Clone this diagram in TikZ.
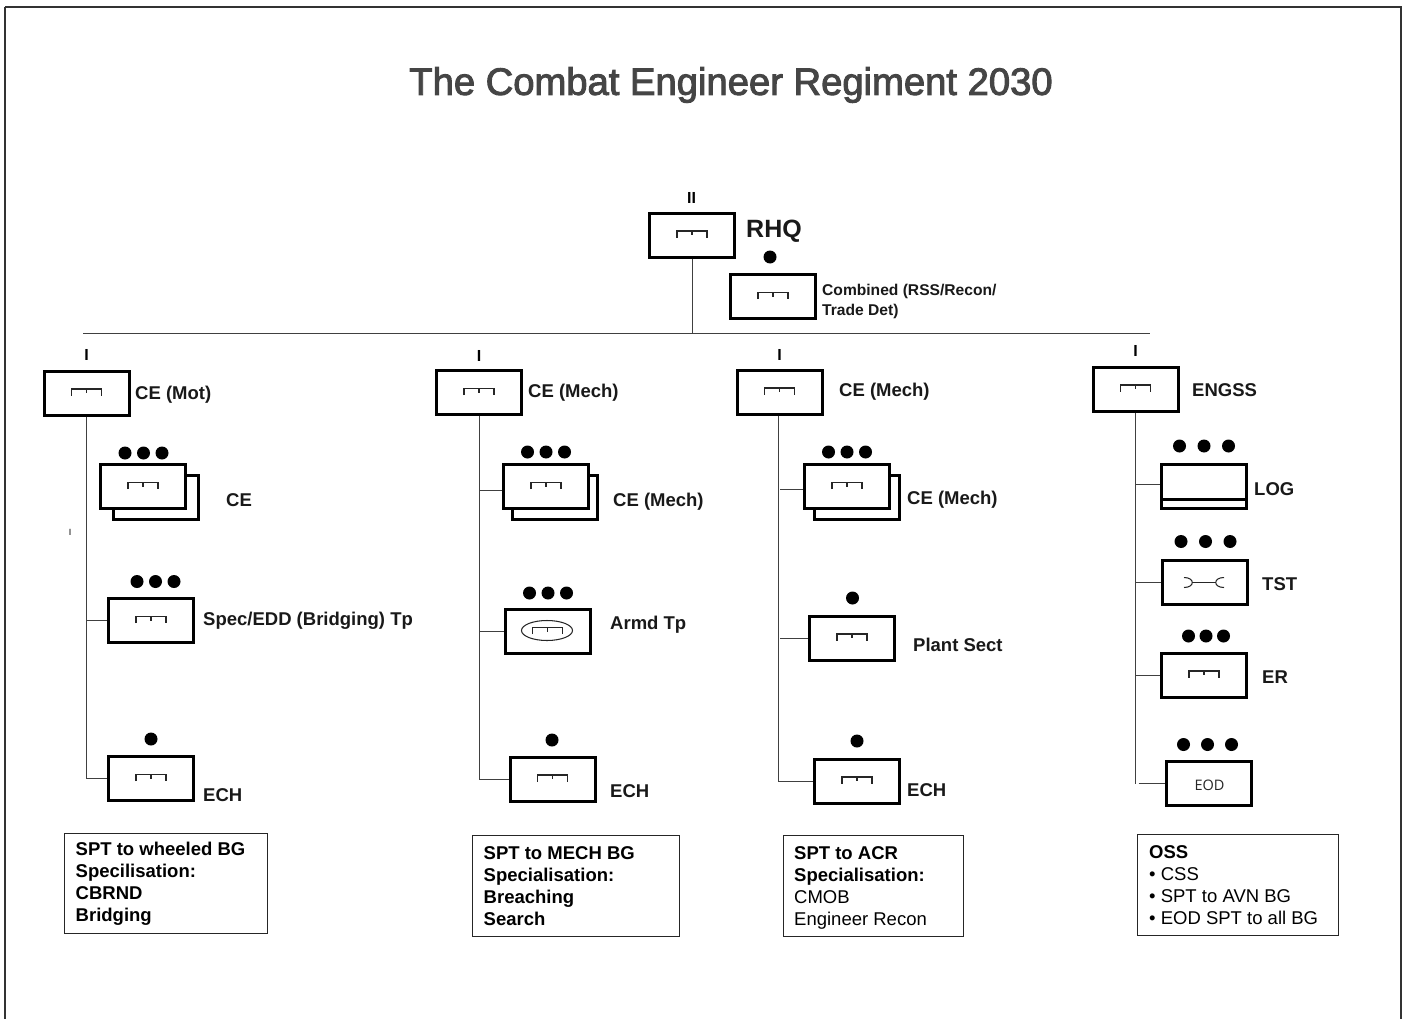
\documentclass[tikz,border=0pt]{standalone}
\usepackage{fontspec}
\setmainfont{Liberation Sans}
\newfontfamily\eodfont{Open Sans}
\newfontfamily\titlefont[FakeBold=2.5]{Liberation Sans}
\definecolor{titlegray}{gray}{0.27}
\definecolor{linegray}{gray}{0.25}
\newcommand{\lblsize}{\fontsize{18.5}{22}\selectfont\bfseries}
\tikzset{
  x=1pt,y=-1pt,
  unitbox/.style={draw=black,line width=3pt,fill=white,minimum width=85pt,minimum height=44pt,inner sep=0pt,outer sep=1.5pt},
  lbl/.style={font=\lblsize,anchor=west,inner sep=0pt,text=black!90},
  dot/.style={circle,fill=black,inner sep=0pt,minimum size=13pt},
  echelon/.style={font=\fontsize{16}{18}\selectfont\bfseries,inner sep=0pt},
  wire/.style={draw=linegray,line width=1pt},
  sym/.style={draw=black!85,line width=1.05pt},
  notebox/.style={draw=black!85,line width=0.9pt,inner sep=0pt},
  notetext/.style={font=\fontsize{18.5}{22}\selectfont,align=left,anchor=north west,inner sep=0pt},
}
% engineer symbol centred on a node
\newcommand{\engsym}[1]{%
  \draw[sym] ([xshift=-15pt,yshift=-2.5pt]#1.center) -- ++(0,-6.5) -- ++(30,0) -- ++(0,6.5);
  \draw[sym] ([yshift=4pt]#1.center) -- (#1.center);}
\newcommand{\threedots}[4]{% name x y spacing
  \node[dot] (#1a) at (#2-#4,#3) {};
  \node[dot] (#1b) at (#2,#3) {};
  \node[dot] (#1c) at (#2+#4,#3) {};}
\begin{document}
\begin{tikzpicture}
\useasboundingbox (0,0) rectangle (1407,1019);
\fill[white] (0,0) rectangle (1407,1019);
\draw[draw=black!80,line width=1.2pt] (5,7) -- (1401,7) -- (1401,1019) (5,7) -- (5,1019);

\node[font=\titlefont\fontsize{38.2}{42}\selectfont,text=titlegray,inner sep=0pt] (title) at (731,85) {The Combat Engineer Regiment 2030};

% RHQ
\node[unitbox] (rhq) at (692,235) {};
\node[unitbox] (comb) at (773,296.5) {};
\coordinate (busl) at (83,333);
\coordinate (busr) at (1150,333);
\draw[wire] (busl) -- (busr);
\draw[wire] (rhq.south) -- (rhq.south |- busl);
\node[echelon] (rhqe) at (691.5,198) {II};
\node[dot] (combd) at (770,257) {};
\node[lbl,font=\fontsize{25}{28}\selectfont\bfseries] (rhql) at (746,231) {RHQ};
\node[lbl,font=\fontsize{15.6}{20}\selectfont\bfseries,align=left] (combl) at (822,301) {Combined (RSS/Recon/\\Trade Det)};

% Column 1
\node[unitbox] (mot) at (86.5,393) {};
\node[echelon] (mote) at (86.5,355) {I};
\node[lbl] (motl) at (135,395) {CE (Mot)};
\node[unitbox] (s1b) at (155.5,497) {};
\node[unitbox] (s1) at (143,486.5) {};
\threedots{s1d}{143.5}{453}{18.5}
\node[lbl] (s1l) at (226,500) {CE};
\node[unitbox] (spec) at (151,620.5) {};
\threedots{specd}{155.5}{581.5}{18.5}
\node[lbl] (specl) at (203,620.5) {Spec/EDD (Bridging) Tp};
\node[unitbox] (ech1) at (151,778.5) {};
\node[dot] (ech1d) at (151,739) {};
\node[lbl] (ech1l) at (203,795.5) {ECH};
\node[inner sep=0pt,font=\fontsize{9}{9}\selectfont] (tick) at (70,532) {I};
\draw[wire] (mot.south) |- (ech1.west);
\draw[wire] (spec.west) -- (spec.west -| mot.south);

% Column 2
\node[unitbox] (m1) at (479,392.5) {};
\node[echelon] (m1e) at (479,356) {I};
\node[lbl] (m1l) at (528,393) {CE (Mech)};
\node[unitbox] (s2b) at (555,497) {};
\node[unitbox] (s2) at (546,486.5) {};
\threedots{s2d}{546}{452}{18.5}
\node[lbl] (s2l) at (613,502) {CE (Mech)};
\node[unitbox] (armd) at (547.5,631.5) {};
\threedots{armdd}{548}{593}{18.5}
\node[lbl] (armdl) at (610,625) {Armd Tp};
\node[unitbox] (ech2) at (552.5,779) {};
\node[dot] (ech2d) at (552,740) {};
\node[lbl] (ech2l) at (610,791.5) {ECH};
\draw[wire] (m1.south) |- (ech2.west);
\draw[wire] ([yshift=-3.5pt]s2.west) -- ([yshift=-3.5pt]s2.west -| m1.south);
\draw[wire] (armd.west) -- (armd.west -| m1.south);

% Column 3
\node[unitbox] (m2) at (779.5,392) {};
\node[echelon] (m2e) at (779.5,355) {I};
\node[lbl] (m2l) at (839,392) {CE (Mech)};
\node[unitbox] (s3b) at (857,497) {};
\node[unitbox] (s3) at (847,486.5) {};
\threedots{s3d}{847}{452}{18.5}
\node[lbl] (s3l) at (907,500) {CE (Mech)};
\node[unitbox] (plant) at (852,638) {};
\node[dot] (plantd) at (852.5,598) {};
\node[lbl] (plantl) at (913,645) {Plant Sect};
\node[unitbox] (ech3) at (857,781) {};
\node[dot] (ech3d) at (857,741) {};
\node[lbl] (ech3l) at (907,790) {ECH};
\draw[wire] ([xshift=-1.5pt]m2.south) |- (ech3.west);
\draw[wire] ([yshift=-2.5pt]s3.west) -- ([yshift=-2.5pt]s3.west -| m2.south);
\draw[wire] (plant.west) -- (plant.west -| m2.south);

% Column 4
\node[unitbox] (eng) at (1135.5,389) {};
\node[echelon] (enge) at (1135.5,351) {I};
\node[lbl] (engl) at (1192,390) {ENGSS};
\node[unitbox] (log) at (1203.5,486) {};
\threedots{logd}{1204}{446}{24.5}
\node[lbl] (logl) at (1254,489) {LOG};
\draw[draw=black,line width=3pt] ([yshift=-13pt]log.west) ++(1.5,0) -- ([yshift=-13pt]log.east);
\node[unitbox] (tst) at (1205,582.5) {};
\threedots{tstd}{1205.5}{541.5}{24.5}
\node[lbl] (tstl) at (1262,584) {TST};
\node[unitbox] (er) at (1204,675) {};
\threedots{erd}{1206}{636}{17.5}
\node[lbl] (erl) at (1262,677) {ER};
\node[unitbox] (eod) at (1208.5,783.5) {};
\node[inner sep=0pt,font=\eodfont\fontsize{14.5}{16}\selectfont,text=black!85] at ([xshift=1pt,yshift=-1.5pt]eod.center) {EOD};
\threedots{eodd}{1207.5}{744.5}{24}
\draw[wire] (eng.south) -- (eng.south |- eod.west);
\draw[wire] ([xshift=3pt]eng.south |- eod.west) -- (eod.west);
\draw[wire] ([yshift=2pt]log.west) -- ([yshift=2pt]log.west -| eng.south);
\draw[wire] (tst.west) -- (tst.west -| eng.south);
\draw[wire] (er.west) -- (er.west -| eng.south);

% Symbols
\foreach \n in {rhq,comb,mot,s1,spec,ech1,m1,s2,ech2,m2,s3,plant,ech3,eng,er}{\engsym{\n}}
\engsym{armd}
\draw[sym] ([xshift=-0.5pt,yshift=1pt]armd.center) ellipse (25.5 and 10);
% bridge symbol
\draw[sym] ([xshift=-21pt,yshift=5pt]tst.center) .. controls ([xshift=-10pt,yshift=5pt]tst.center) and ([xshift=-10pt,yshift=-5pt]tst.center) .. ([xshift=-21pt,yshift=-5pt]tst.center);
\draw[sym] ([xshift=19pt,yshift=5pt]tst.center) .. controls ([xshift=8pt,yshift=5pt]tst.center) and ([xshift=8pt,yshift=-5pt]tst.center) .. ([xshift=19pt,yshift=-5pt]tst.center);
\draw[sym] ([xshift=-13pt]tst.center) -- ([xshift=11pt]tst.center);

% Notes
\node[notebox,minimum width=203pt,minimum height=100pt] (n1) at (165.5,883) {};
\node[notetext] (n1t) at (75.5,842) {\textbf{SPT to wheeled BG}\\\textbf{Specilisation:}\\\textbf{CBRND}\\\textbf{Bridging}};
\node[notebox,minimum width=207pt,minimum height=101pt] (n2) at (575.5,885.5) {};
\node[notetext] (n2t) at (483.5,846) {\textbf{SPT to MECH BG}\\\textbf{Specialisation:}\\\textbf{Breaching}\\\textbf{Search}};
\node[notebox,minimum width=180pt,minimum height=101pt] (n3) at (873,885.5) {};
\node[notetext] (n3t) at (794,846) {\textbf{SPT to ACR}\\\textbf{Specialisation:}\\CMOB\\Engineer Recon};
\node[notebox,minimum width=201pt,minimum height=101pt] (n4) at (1237.5,884.5) {};
\node[notetext] (n4t) at (1149,845) {\textbf{OSS}\\• CSS\\• SPT to AVN BG\\• EOD SPT to all BG};
\end{tikzpicture}
\end{document}
